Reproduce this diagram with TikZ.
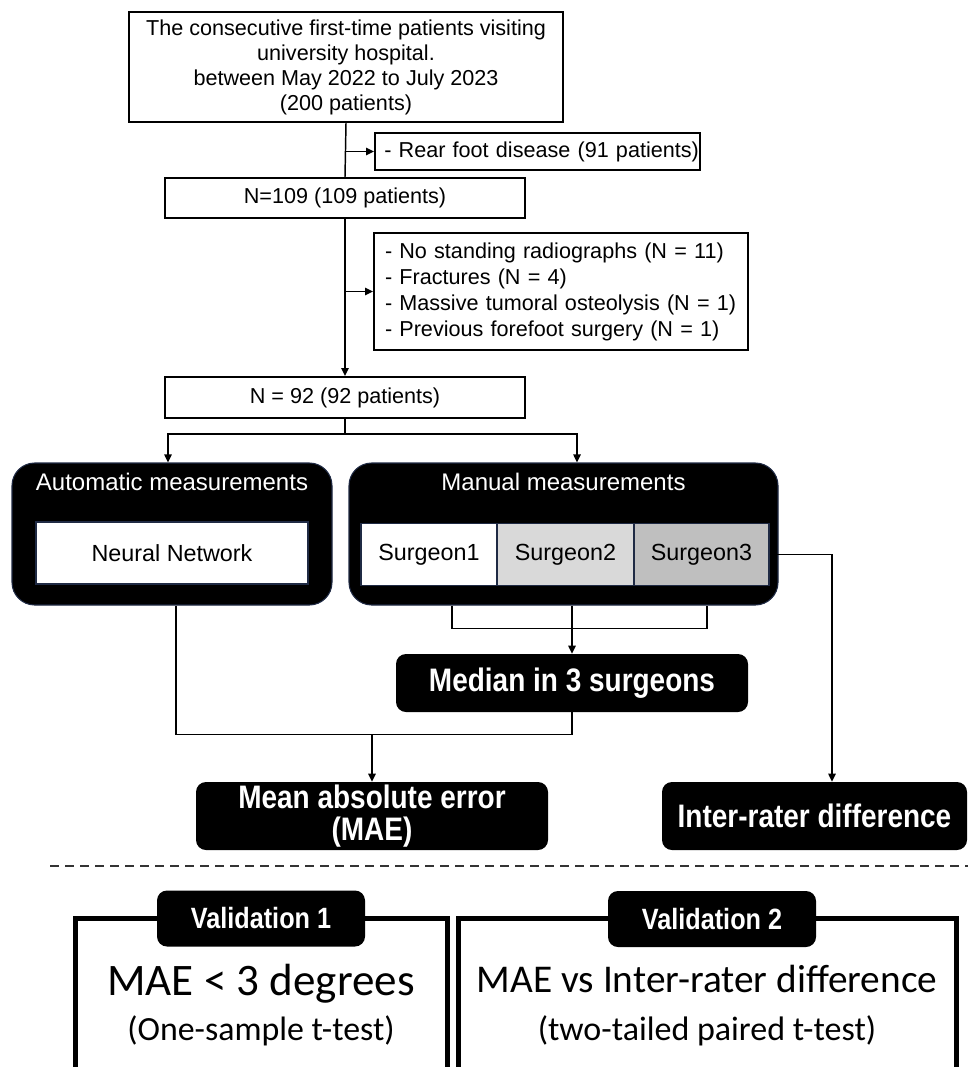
\documentclass[tikz,border=0pt]{standalone}
\usepackage{fontspec}
\setmainfont{Liberation Sans}
\newfontfamily\bsans{Liberation Sans}[FakeStretch=0.86]
\newfontfamily\calib{Carlito}
\usetikzlibrary{arrows.meta,calc}
\definecolor{navy}{HTML}{1F2A44}
\definecolor{sgA}{HTML}{D9D9D9}
\definecolor{sgB}{HTML}{BFBFBF}
\begin{document}
\begin{tikzpicture}[x=0.75pt,y=-0.75pt,
  conn/.style={line width=1.1pt,draw=black},
  arr/.style={conn,-{Triangle[length=6pt,width=5.5pt]}},
  wbox/.style={draw=black,line width=1.5pt,fill=white,inner sep=0pt,font=\fontsize{16.2}{18.75}\selectfont},
  blk/.style={fill=black,draw=navy,line width=0.8pt,rounded corners=17pt,inner sep=0pt},
  wtitle/.style={text=white,font=\fontsize{18}{20}\selectfont,inner sep=0pt},
  inbox/.style={draw=navy,line width=0.9pt,inner sep=0pt,minimum height=46.5pt,font=\fontsize{17.5}{20}\selectfont},
  bbox/.style={fill=black,rounded corners=7.5pt,text=white,align=center,inner sep=0pt,font=\bsans\bfseries\fontsize{24.4}{23.5}\selectfont},
  tab/.style={fill=black,rounded corners=7.5pt,text=white,inner sep=0pt,minimum width=156pt,minimum height=42pt,font=\bsans\bfseries\fontsize{22}{24}\selectfont},
  frame/.style={draw=black,line width=3.75pt,inner sep=0pt},
  vtext/.style={anchor=base,inner sep=0pt}
]
\useasboundingbox (0,0) rectangle (968,1067);

% top flow
\node[wbox,align=center,minimum width=325.5pt,minimum height=82.5pt] (top) at (346,67)
  {The consecutive first-time patients visiting\\university hospital.\\between May 2022 to July 2023\\(200 patients)};
\node[wbox,align=left,text width=243.75pt,inner xsep=0pt,minimum height=27.75pt] (rear) at (537.5,151.5)
  {\hspace*{7pt}- Rear foot disease (91 patients)};
\node[wbox,minimum width=270pt,minimum height=30pt] (n109) at (345,198) {N=109 (109 patients)};
\node[wbox,align=left,text width=264pt,inner xsep=8.25pt,minimum height=87.75pt,font=\fontsize{16.2}{19.5}\selectfont] (excl) at (561,291.5)
  {- No standing radiographs (N = 11)\\- Fractures (N = 4)\\- Massive tumoral osteolysis (N = 1)\\- Previous forefoot surgery (N = 1)};
\node[wbox,minimum width=270pt,minimum height=30.75pt] (n92) at (345,397.5) {N = 92 (92 patients)};

% measurement groups
\node[blk,minimum width=240pt,minimum height=106.5pt] (auto) at (172,534) {};
\node[wtitle] (autot) at (172,482) {Automatic measurements};
\node[inbox,fill=white,minimum width=204pt] (nn) at (172,553) {Neural Network};

\node[blk,minimum width=321.75pt,minimum height=106.5pt] (man) at (563.5,534) {};
\node[wtitle] (mant) at (563.5,482) {Manual measurements};
\node[inbox,fill=white,minimum width=102pt] (s1) at (429,554.5) {Surgeon1};
\node[inbox,fill=sgA,minimum width=102.75pt] (s2) at (565.5,554.5) {Surgeon2};
\node[inbox,fill=sgB,minimum width=101.25pt] (s3) at (701.5,554.5) {Surgeon3};

\node[bbox,minimum width=264pt,minimum height=43.5pt] (med) at (572,683) {Median in 3 surgeons};
\node[bbox,minimum width=264pt,minimum height=51pt] (mae) at (372,816) {Mean absolute error\\(MAE)};
\node[bbox,minimum width=228.75pt,minimum height=51pt] (ir) at (814.5,816) {Inter-rater difference};

% connectors
\draw[conn] (top.south) -- (n109.north);
\draw[arr] (top.south |- rear.west) -- (rear.west);
\draw[arr] (n109.south) -- (n92.north);
\draw[arr] (n109.south |- excl.west) -- (excl.west);
\coordinate (split) at ($(n92.south)+(0,15)$);
\draw[conn] (n92.south) -- (split);
\draw[arr] (split) -| ($(auto.north)+(-4,0)$);
\draw[arr] (split) -| ($(man.north)+(13.5,0)$);

\coordinate (brk) at ($(man.south)+(0,23)$);
\draw[conn] ($(man.south)+(-111.5,0)$) |- (brk) -| ($(man.south)+(143.5,0)$);
\draw[arr] (man.south -| med.north) -- (med.north);

\coordinate (join) at ($(mae.north)+(0,-47)$);
\draw[conn] ($(auto.south)+(4,0)$) |- (join -| med.south) -- (med.south);
\draw[arr] (join) -- (mae.north);

\draw[arr] (s3.east) -| ($(ir.north)+(17.5,0)$);

% separator
\draw[line width=1.1pt,draw=black!80,dash pattern=on 6.75pt off 4.5pt] (50,866) -- (968,866);

% validation panels
\node[frame,minimum width=279pt,minimum height=129pt] (f1) at (261,1004) {};
\node[frame,minimum width=373.5pt,minimum height=129pt] (f2) at (707,1004) {};
\node[tab] (v1) at (261,918.5) {Validation 1};
\node[tab] (v2) at (712,919) {Validation 2};
\node[vtext,font=\calib\fontsize{33.8}{36}\selectfont] (v1a) at (261,995) {MAE < 3 degrees};
\node[vtext,font=\calib\fontsize{25.4}{28}\selectfont] (v1b) at (261,1040) {(One-sample t-test)};
\node[vtext,font=\calib\fontsize{29.5}{32}\selectfont] (v2a) at (707,992) {MAE vs Inter-rater difference};
\node[vtext,font=\calib\fontsize{25.5}{28}\selectfont] (v2b) at (707,1040) {(two-tailed paired t-test)};
\end{tikzpicture}
\end{document}
